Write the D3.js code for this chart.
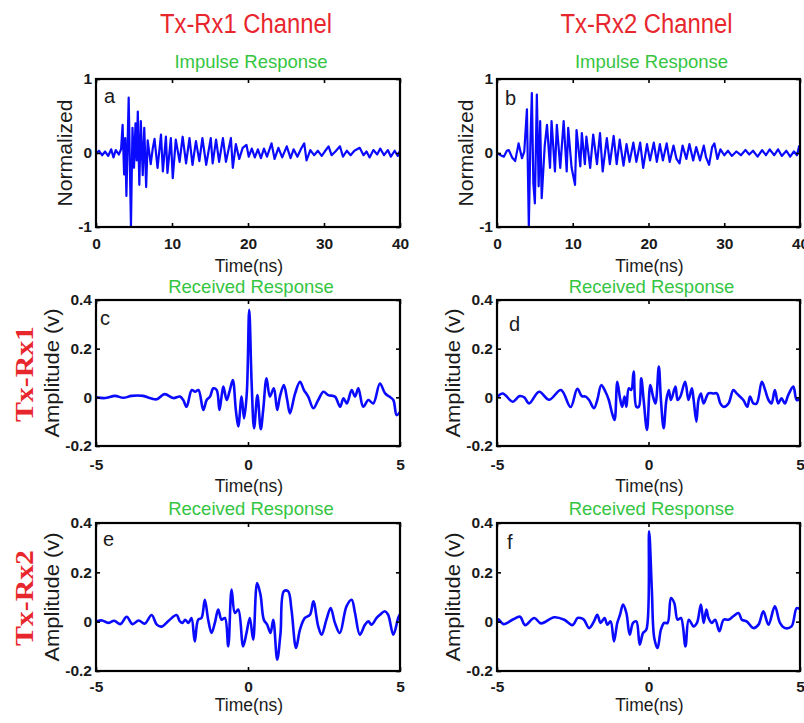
<!DOCTYPE html>
<html><head><meta charset="utf-8">
<script src="https://cdn.jsdelivr.net/npm/d3@7"></script>
<style>
body{margin:0;background:#fff;}
svg text{font-family:"Liberation Sans",Arial,Helvetica,sans-serif;}
</style></head><body>
<svg id="chart" width="804" height="723"></svg>
<script>
// ---------------- DATA ----------------
const impulseTxRx1 = [[0,0],[0.4,0.03],[0.8,-0.03],[1.2,0.02],[1.6,-0.04],[2.0,0.05],[2.3,-0.06],[2.6,0.04],[3.0,-0.02],[3.3,0.05],[3.5,0.38],[3.7,-0.29],[3.85,0.2],[4.0,-0.58],[4.3,0.75],[4.6,-1.0],[4.8,0.34],[5.0,-0.2],[5.2,0.40],[5.35,-0.1],[5.5,0.56],[5.7,-0.43],[5.9,0.43],[6.15,-0.30],[6.35,0.34],[6.6,-0.46],[6.8,0.17],[7.2,-0.15],[7.45,0.05],[7.7,0.19],[8.1,-0.2],[8.55,0.25],[8.8,-0.25],[9.2,0.22],[9.4,-0.27],[9.85,0.20],[10.1,-0.34],[10.5,0.18],[11.0,-0.12],[11.4,0.22],[11.85,-0.14],[12.3,0.20],[12.7,-0.16],[13.15,0.16],[13.6,-0.11],[14.0,0.20],[14.5,-0.16],[15.1,0.20],[15.35,-0.14],[15.8,0.18],[16.2,-0.12],[16.7,0.20],[17.1,-0.12],[17.75,0.20],[18.0,-0.20],[18.4,0.12],[18.85,-0.08],[19.3,0.07],[19.8,0.11],[20.1,-0.05],[20.5,0.06],[20.9,-0.06],[21.3,0.05],[21.7,-0.07],[22.1,0.06],[22.5,-0.05],[23.1,0.13],[23.5,-0.08],[24.0,0.07],[24.5,-0.06],[25.1,0.09],[25.6,-0.07],[26.0,0.05],[26.5,-0.05],[27.0,0.06],[27.4,0.13],[27.7,-0.10],[28.2,0.04],[28.7,-0.03],[29.2,0.03],[29.7,-0.04],[30.1,0.02],[30.6,0.09],[31.0,-0.03],[31.5,0.02],[32.1,0.09],[32.5,-0.05],[33.0,0.03],[33.5,-0.03],[34.0,0.03],[34.7,0.07],[35.2,-0.03],[35.6,0.02],[36.0,-0.06],[36.5,0.04],[37.0,-0.02],[37.4,0.06],[37.9,-0.03],[38.4,0.04],[38.8,-0.05],[39.3,0.03],[39.7,-0.04],[40,0.03]];

const impulseTxRx2 = [[0,0],[0.5,-0.03],[0.9,-0.05],[1.3,0.03],[1.55,0.04],[2.0,-0.06],[2.4,-0.11],[2.85,0.13],[3.3,-0.07],[3.6,0.02],[3.95,0.59],[4.2,-1.0],[4.4,0.1],[4.6,0.81],[4.8,-0.41],[5.0,-0.68],[5.26,0.79],[5.5,-0.45],[5.7,0.43],[5.9,-0.61],[6.3,0.1],[6.6,0.38],[7.0,-0.2],[7.2,0.43],[7.65,-0.25],[7.9,0.38],[8.35,-0.2],[8.8,0.43],[9.2,-0.25],[9.4,0.34],[9.85,-0.2],[10.3,-0.43],[10.5,0.31],[11.0,-0.18],[11.2,0.27],[11.6,-0.15],[11.8,0.22],[12.3,-0.2],[12.7,0.25],[13.2,-0.15],[13.6,0.27],[13.95,-0.25],[14.5,0.2],[14.9,-0.15],[15.4,0.23],[15.8,-0.15],[16.2,0.18],[16.7,-0.17],[17.1,0.12],[17.5,-0.12],[18.0,0.14],[18.4,-0.12],[18.9,0.14],[19.3,-0.2],[19.8,0.12],[20.2,-0.1],[20.7,0.14],[21.1,-0.12],[21.5,0.12],[21.9,-0.1],[22.4,0.13],[22.8,-0.12],[23.3,0.1],[23.7,-0.08],[24.1,-0.14],[24.5,0.1],[25.0,-0.08],[25.4,0.12],[25.9,-0.1],[26.3,0.08],[26.8,-0.1],[27.3,0.1],[27.6,-0.06],[28.0,-0.16],[28.4,0.08],[28.7,0.13],[29.1,-0.08],[29.5,0.05],[30.0,-0.03],[30.5,0.03],[31.0,-0.04],[31.6,0.02],[32.2,-0.03],[32.8,0.04],[33.3,-0.02],[33.8,0.03],[34.4,-0.05],[35.0,0.04],[35.5,-0.03],[36.0,0.05],[36.6,-0.03],[37.1,0.05],[37.6,-0.04],[38.2,0.03],[38.7,-0.05],[39.2,0.02],[39.6,-0.03],[39.9,0.1]];

const receivedTx1Rx1 = [[-5,0.0],[-4.7,-0.003],[-4.375,0.006],[-4.1,-0.002],[-3.83,0.006],[-3.45,0.006],[-3.2,-0.004],[-3.0,-0.008],[-2.74,0.013],[-2.46,-0.003],[-2.24,0.003],[-2.13,-0.011],[-2.02,-0.039],[-1.85,0.03],[-1.74,0.023],[-1.63,0.03],[-1.47,-0.052],[-1.36,-0.011],[-1.25,0.003],[-1.14,0.037],[-1.03,0.03],[-0.94,-0.052],[-0.87,0.003],[-0.81,0.044],[-0.70,-0.011],[-0.61,0.023],[-0.50,0.071],[-0.40,-0.052],[-0.32,-0.12],[-0.21,0.003],[-0.13,-0.087],[-0.04,0.016],[0.04,0.36],[0.12,0.057],[0.20,-0.127],[0.31,0.009],[0.42,-0.131],[0.50,-0.052],[0.61,0.078],[0.72,0.003],[0.85,0.037],[0.96,-0.052],[1.05,0.003],[1.18,0.05],[1.29,-0.011],[1.38,-0.066],[1.55,0.016],[1.71,0.064],[1.84,0.03],[1.98,0.003],[2.15,-0.045],[2.31,-0.011],[2.48,0.023],[2.64,0.009],[2.86,0.003],[3.03,-0.039],[3.14,-0.004],[3.25,-0.025],[3.41,0.03],[3.52,0.003],[3.63,0.037],[3.79,-0.039],[3.96,-0.011],[4.12,-0.025],[4.34,0.057],[4.51,0.016],[4.65,0.003],[4.78,-0.011],[4.89,-0.073],[5.0,-0.06]];

const receivedTx2Rx1 = [[-5,0.0],[-4.81,0.016],[-4.48,-0.018],[-4.26,0.005],[-4.1,0.0],[-3.94,-0.025],[-3.61,0.023],[-3.28,-0.01],[-2.89,0.03],[-2.57,-0.04],[-2.35,0.035],[-2.2,0.005],[-2.07,0.003],[-1.96,-0.011],[-1.80,-0.045],[-1.69,-0.011],[-1.56,0.05],[-1.42,0.023],[-1.31,-0.011],[-1.20,-0.066],[-1.12,-0.093],[-1.03,0.064],[-0.94,-0.004],[-0.87,-0.039],[-0.79,0.003],[-0.73,-0.039],[-0.65,0.037],[-0.57,0.03],[-0.49,0.106],[-0.40,-0.039],[-0.32,-0.039],[-0.24,0.078],[-0.16,-0.011],[-0.05,-0.134],[0.06,0.05],[0.15,0.003],[0.23,-0.025],[0.34,0.126],[0.41,-0.011],[0.50,-0.127],[0.59,-0.011],[0.67,0.03],[0.74,-0.011],[0.89,0.044],[0.96,-0.011],[1.05,0.003],[1.21,0.064],[1.32,-0.011],[1.43,0.037],[1.49,-0.011],[1.58,-0.1],[1.65,-0.011],[1.73,0.016],[1.82,-0.025],[1.98,0.016],[2.15,0.016],[2.26,0.016],[2.37,-0.025],[2.48,-0.039],[2.64,-0.025],[2.80,0.03],[2.91,0.016],[3.13,-0.011],[3.26,-0.039],[3.35,0.003],[3.46,-0.025],[3.57,-0.025],[3.74,0.064],[3.85,0.03],[3.96,-0.011],[4.06,-0.025],[4.17,0.03],[4.28,-0.025],[4.39,-0.004],[4.50,-0.025],[4.61,0.009],[4.78,0.044],[4.89,-0.011],[5.0,-0.005]];

const receivedTx1Rx2 = [[-5,0.0],[-4.8,0.005],[-4.6,-0.005],[-4.4,0.004],[-4.2,-0.01],[-3.99,0.02],[-3.8,-0.01],[-3.6,0.005],[-3.4,-0.008],[-3.17,0.027],[-3.0,-0.012],[-2.84,-0.02],[-2.6,0.005],[-2.35,0.027],[-2.24,0.001],[-2.15,-0.005],[-2.07,0.008],[-1.96,-0.005],[-1.86,0.015],[-1.75,-0.08],[-1.64,0.008],[-1.53,0.015],[-1.42,0.089],[-1.31,0.008],[-1.20,-0.046],[-1.09,-0.005],[-0.98,0.049],[-0.87,0.008],[-0.76,0.015],[-0.65,-0.10],[-0.54,0.13],[-0.43,0.035],[-0.32,0.049],[-0.16,-0.10],[-0.05,-0.046],[0.06,0.015],[0.17,-0.073],[0.30,0.157],[0.41,0.11],[0.52,0.008],[0.63,-0.012],[0.74,-0.046],[0.83,0.008],[0.96,-0.154],[1.07,-0.046],[1.18,0.123],[1.32,0.123],[1.43,0.049],[1.58,-0.107],[1.71,-0.032],[1.87,0.015],[2.04,0.028],[2.15,0.083],[2.31,-0.019],[2.42,-0.053],[2.58,0.008],[2.72,0.055],[2.86,-0.005],[3.02,-0.046],[3.24,0.062],[3.41,0.089],[3.52,0.035],[3.68,-0.053],[3.85,-0.012],[3.96,0.001],[4.06,-0.012],[4.23,0.015],[4.34,0.028],[4.50,0.042],[4.61,0.028],[4.78,-0.053],[4.94,0.015],[5.0,0.03]];

const receivedTx2Rx2 = [[-5,-0.005],[-4.96,0.01],[-4.79,-0.01],[-4.46,0.01],[-4.24,0.02],[-4.07,-0.014],[-3.77,0.015],[-3.55,-0.007],[-3.11,0.018],[-2.78,0.008],[-2.51,-0.014],[-2.34,0.015],[-2.24,0.015],[-2.13,0.008],[-1.96,-0.026],[-1.80,0.001],[-1.69,0.028],[-1.58,-0.005],[-1.45,0.015],[-1.36,-0.012],[-1.25,0.001],[-1.14,-0.08],[-1.03,-0.005],[-0.94,0.028],[-0.84,0.069],[-0.73,0.035],[-0.62,-0.053],[-0.51,-0.005],[-0.40,0.001],[-0.29,-0.093],[-0.18,-0.046],[-0.07,-0.032],[0.02,0.366],[0.11,0.13],[0.19,-0.066],[0.30,-0.107],[0.41,-0.032],[0.52,-0.005],[0.63,-0.005],[0.74,0.096],[0.85,0.076],[0.96,0.008],[1.07,0.015],[1.22,-0.10],[1.33,0.008],[1.49,-0.019],[1.60,-0.005],[1.73,0.069],[1.82,-0.005],[1.91,0.049],[1.98,0.015],[2.09,-0.005],[2.20,0.008],[2.34,-0.039],[2.48,0.008],[2.64,0.008],[2.80,0.022],[2.97,0.035],[3.08,0.008],[3.24,0.001],[3.46,-0.026],[3.63,-0.012],[3.79,0.042],[3.96,-0.012],[4.17,0.062],[4.34,-0.005],[4.50,-0.026],[4.72,-0.019],[4.89,0.055],[5.0,0.05]];

const impulseXTicks = [0, 10, 20, 30, 40];
const impulseYTicks = [-1, 0, 1];
const receivedXTicks = [-5, 0, 5];
const receivedYTicks = [-0.2, 0, 0.2, 0.4];
const columnTitles = ["Tx-Rx1 Channel", "Tx-Rx2 Channel"];
const rowLabels = ["Tx-Rx1", "Tx-Rx2"];
const panelLetters = ["a", "b", "c", "d", "e", "f"];
const subTitles = ["Impulse Response", "Received Response"];
const xLabel = "Time(ns)";
const yLabels = ["Normalized", "Amplitude (v)"];

// ---------------- LAYOUT ----------------
const svg = d3.select("#chart");
const colX = [[96, 400], [497, 800]];
const rowY = [[79, 227], [300, 446], [523, 671]];
const xTickPad = [11, 13, 10];
const subBase = [68, 293, 515];
const timeBase = [272, 492, 711];
const letterPos = [[104, 103], [505, 104.5], [100, 325], [509, 331], [103, 546], [507, 549]];

const panels = [
  {data: impulseTxRx1, row: 0, col: 0},
  {data: impulseTxRx2, row: 0, col: 1},
  {data: receivedTx1Rx1, row: 1, col: 0},
  {data: receivedTx2Rx1, row: 1, col: 1},
  {data: receivedTx1Rx2, row: 2, col: 0},
  {data: receivedTx2Rx2, row: 2, col: 1}
];

const RED = "#e8262d", GREEN = "#34c542", BLUE = "#0a0aff", INK = "#1a1a1a";

panels.forEach((p, i) => {
  const [x0, x1] = colX[p.col];
  const [y0, y1] = rowY[p.row];
  const imp = p.row === 0;
  const x = d3.scaleLinear().domain(imp ? [0, 40] : [-5, 5]).range([x0, x1]);
  const y = d3.scaleLinear().domain(imp ? [-1, 1] : [-0.2, 0.4]).range([y1, y0]);
  const xt = imp ? impulseXTicks : receivedXTicks;
  const yt = imp ? impulseYTicks : receivedYTicks;
  const g = svg.append("g");

  const clipId = "clip" + i;
  g.append("clipPath").attr("id", clipId).append("rect")
    .attr("x", x0).attr("y", y0).attr("width", x1 - x0).attr("height", y1 - y0);

  const line = d3.line().x(d => x(d[0])).y(d => y(d[1]))
    .curve(imp ? d3.curveLinear : d3.curveCatmullRom.alpha(0.5));
  g.append("path").datum(p.data).attr("clip-path", `url(#${clipId})`)
    .attr("d", line).attr("fill", "none").attr("stroke", BLUE)
    .attr("stroke-width", imp ? 2.2 : 2.6).attr("stroke-linejoin", "round");

  const fmt = d => String(d);
  const styleAxis = sel => {
    sel.select(".domain").remove();
    sel.selectAll(".tick line").attr("stroke", "#000").attr("stroke-width", 1.6);
    sel.selectAll(".tick text").attr("fill", INK).style("font-size", "15.5px").style("font-weight", "bold");
  };
  g.append("g").attr("transform", `translate(0,${y1})`)
    .call(d3.axisBottom(x).tickValues(xt).tickSizeInner(-4).tickSizeOuter(0).tickPadding(xTickPad[p.row]).tickFormat(fmt))
    .call(styleAxis);
  g.append("g").attr("transform", `translate(0,${y0})`)
    .call(d3.axisTop(x).tickValues(xt).tickSizeInner(-4).tickSizeOuter(0).tickFormat(() => ""))
    .call(styleAxis);
  g.append("g").attr("transform", `translate(${x0},0)`)
    .call(d3.axisLeft(y).tickValues(yt).tickSizeInner(-4).tickSizeOuter(0).tickPadding(4).tickFormat(fmt))
    .call(styleAxis);
  g.append("g").attr("transform", `translate(${x1},0)`)
    .call(d3.axisRight(y).tickValues(yt).tickSizeInner(-4).tickSizeOuter(0).tickFormat(() => ""))
    .call(styleAxis);

  g.append("rect").attr("x", x0).attr("y", y0).attr("width", x1 - x0).attr("height", y1 - y0)
    .attr("fill", "none").attr("stroke", "#000").attr("stroke-width", 2.2);

  // panel letter
  g.append("text").attr("x", letterPos[i][0]).attr("y", letterPos[i][1])
    .attr("fill", INK).style("font-size", "20px").text(panelLetters[i]);

  // subtitle
  const cx = (x0 + x1) / 2;
  g.append("text").attr("x", cx + 3).attr("y", subBase[p.row]).attr("text-anchor", "middle")
    .attr("fill", GREEN).style("font-size", "18.5px").text(subTitles[imp ? 0 : 1]);

  // x label
  g.append("text").attr("x", cx + 1).attr("y", timeBase[p.row]).attr("text-anchor", "middle")
    .attr("fill", INK).style("font-size", "17.5px").text(xLabel);

  // y label
  const ylx = imp ? x0 - 24 : x0 - 37;
  g.append("text").attr("transform", `translate(${ylx},${(y0 + y1) / 2}) rotate(-90)`)
    .attr("text-anchor", "middle").attr("fill", INK)
    .attr("textLength", imp ? 107 : 129).attr("lengthAdjust", "spacingAndGlyphs")
    .style("font-size", imp ? "20.5px" : "21px").text(yLabels[imp ? 0 : 1]);
});

// column titles
columnTitles.forEach((t, c) => {
  const cx = (colX[c][0] + colX[c][1]) / 2 - 2;
  svg.append("text").attr("x", cx).attr("y", 33).attr("text-anchor", "middle")
    .attr("fill", RED).attr("textLength", 172).attr("lengthAdjust", "spacingAndGlyphs")
    .style("font-size", "27px").text(t);
});

// row labels
rowLabels.forEach((t, r) => {
  const [y0, y1] = rowY[r + 1];
  svg.append("text").attr("transform", `translate(33,${(y0 + y1) / 2 + 1}) rotate(-90)`)
    .attr("text-anchor", "middle").attr("fill", RED)
    .attr("textLength", 96).attr("lengthAdjust", "spacingAndGlyphs")
    .style("font-family", "'Liberation Serif','Times New Roman',serif")
    .style("font-weight", "bold").style("font-size", "26px").text(t);
});
</script>
